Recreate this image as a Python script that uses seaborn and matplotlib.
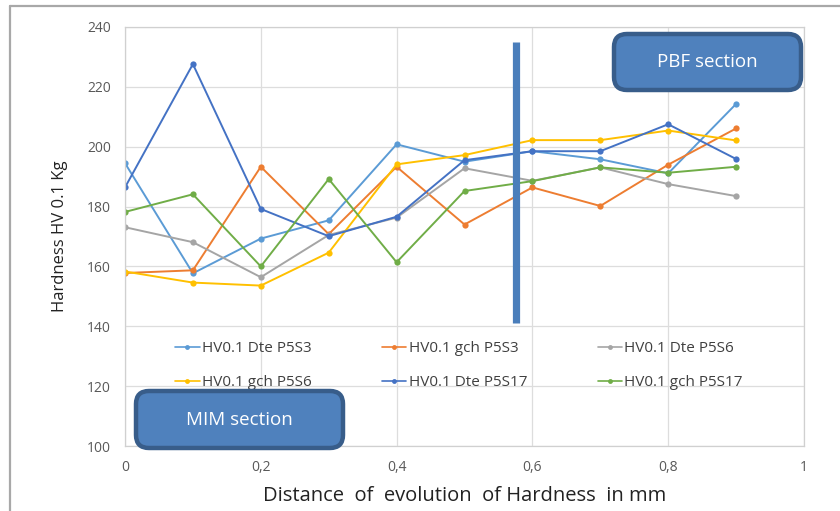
import matplotlib
matplotlib.use("Agg")
import matplotlib.pyplot as plt
from matplotlib.patches import FancyBboxPatch
from matplotlib.lines import Line2D
import seaborn as sns
import pandas as pd

# Measurement positions (mm) and hardness values (HV 0.1)
distance = [0.0, 0.1, 0.2, 0.3, 0.4, 0.5, 0.6, 0.7, 0.8, 0.9]
hv_dte_p5s3 = [194.5, 157.7, 169.3, 175.4, 200.8, 195.0, 198.5, 195.8, 191.1, 214.3]
hv_gch_p5s3 = [157.8, 158.7, 193.3, 170.8, 193.3, 174.0, 186.4, 180.2, 194.0, 206.1]
hv_dte_p5s6 = [173.1, 168.1, 156.4, 170.5, 176.3, 192.8, 188.6, 193.1, 187.5, 183.5]
hv_gch_p5s6 = [158.3, 154.6, 153.6, 164.6, 194.1, 197.2, 202.2, 202.2, 205.4, 202.1]
hv_dte_p5s17 = [186.4, 227.6, 179.2, 170.1, 176.6, 195.5, 198.5, 198.5, 207.5, 195.9]
hv_gch_p5s17 = [178.2, 184.1, 160.0, 189.2, 161.4, 185.2, 188.5, 193.1, 191.3, 193.3]

series_names = ["HV0.1 Dte P5S3", "HV0.1 gch P5S3", "HV0.1 Dte P5S6",
                "HV0.1 gch P5S6", "HV0.1 Dte P5S17", "HV0.1 gch P5S17"]
series_values = [hv_dte_p5s3, hv_gch_p5s3, hv_dte_p5s6,
                 hv_gch_p5s6, hv_dte_p5s17, hv_gch_p5s17]
series_colors = ["#5B9BD5", "#ED7D31", "#A5A5A5", "#FFC000", "#4472C4", "#70AD47"]

# MIM / PBF boundary marker
boundary_x = 0.576
boundary_y = (141.0, 235.0)

x_ticks = [0, 0.2, 0.4, 0.6, 0.8, 1]
x_tick_labels = ["0", "0,2", "0,4", "0,6", "0,8", "1"]
y_ticks = [100, 120, 140, 160, 180, 200, 220, 240]

sns.set_theme(style="whitegrid")
plt.rcParams["font.family"] = ["Open Sans", "DejaVu Sans"]

fig = plt.figure(figsize=(8.4, 5.11), dpi=100)
ax = fig.add_axes([125 / 840, 1 - 446 / 511, 679 / 840, 419 / 511])

rows = []
for name, vals in zip(series_names, series_values):
    for d, v in zip(distance, vals):
        rows.append({"distance": d, "hardness": v, "series": name})
df = pd.DataFrame(rows)

sns.lineplot(data=df, x="distance", y="hardness", hue="series",
             hue_order=series_names, palette=series_colors,
             marker="o", markersize=4.5, markeredgewidth=0,
             linewidth=1.4, ax=ax, legend=True)

ax.vlines(boundary_x, *boundary_y, color="#4A7EBB", linewidth=5.2, zorder=5)

ax.set_xlim(0, 1)
ax.set_ylim(100, 240)
ax.set_xticks(x_ticks)
ax.set_xticklabels(x_tick_labels)
ax.set_yticks(y_ticks)
ax.tick_params(axis="both", length=0, labelsize=10, colors="#595959", pad=10)
ax.grid(True, color="#DDDDDD", linewidth=0.9)
for sp in ax.spines.values():
    sp.set_color("#D0D0D0")
    sp.set_linewidth(0.9)

ax.set_xlabel("Distance  of  evolution  of Hardness  in mm", fontsize=14.5,
              color="#222222", labelpad=8)
ax.set_ylabel("Hardness HV 0.1 Kg", fontsize=12, color="#222222", labelpad=14)

# Legend in row-major order, three columns
handles, labels = ax.get_legend_handles_labels()
order = [0, 3, 1, 4, 2, 5]
leg = ax.legend([handles[i] for i in order], [labels[i] for i in order],
                ncol=3, loc="upper left", bbox_to_anchor=(0.074, 0.25),
                frameon=False, fontsize=11, handlelength=1.6, handletextpad=0.15,
                columnspacing=4.6, labelspacing=1.25, borderpad=0, borderaxespad=0,
                labelcolor="#404040")
for h in leg.legend_handles:
    h.set_linewidth(1.2)
    h.set_markersize(3.5)

# Section labels
def section_box(x0, y0, w, h, text):
    box = FancyBboxPatch((x0, y0), w, h, boxstyle="round,pad=0,rounding_size=0.13",
                         transform=fig.dpi_scale_trans, facecolor="#4F81BD",
                         edgecolor="#385D8A", linewidth=3.2, zorder=10)
    fig.add_artist(box)
    fig.text((x0 + w / 2) / 8.4, (y0 + h / 2) / 5.11, text, color="white",
             fontsize=13.5, ha="center", va="center", zorder=11)

section_box(6.14, 4.21, 1.87, 0.56, "PBF section")
section_box(1.36, 0.63, 2.07, 0.57, "MIM section")

# Outer frame
fig.add_artist(Line2D([10 / 840, 10 / 840], [0, 1 - 6 / 511], transform=fig.transFigure,
                      color="#A8A8A8", linewidth=1.6))
fig.add_artist(Line2D([10 / 840, 1], [1 - 6 / 511, 1 - 6 / 511], transform=fig.transFigure,
                      color="#A8A8A8", linewidth=1.6))

fig.savefig("out.png", dpi=100)
